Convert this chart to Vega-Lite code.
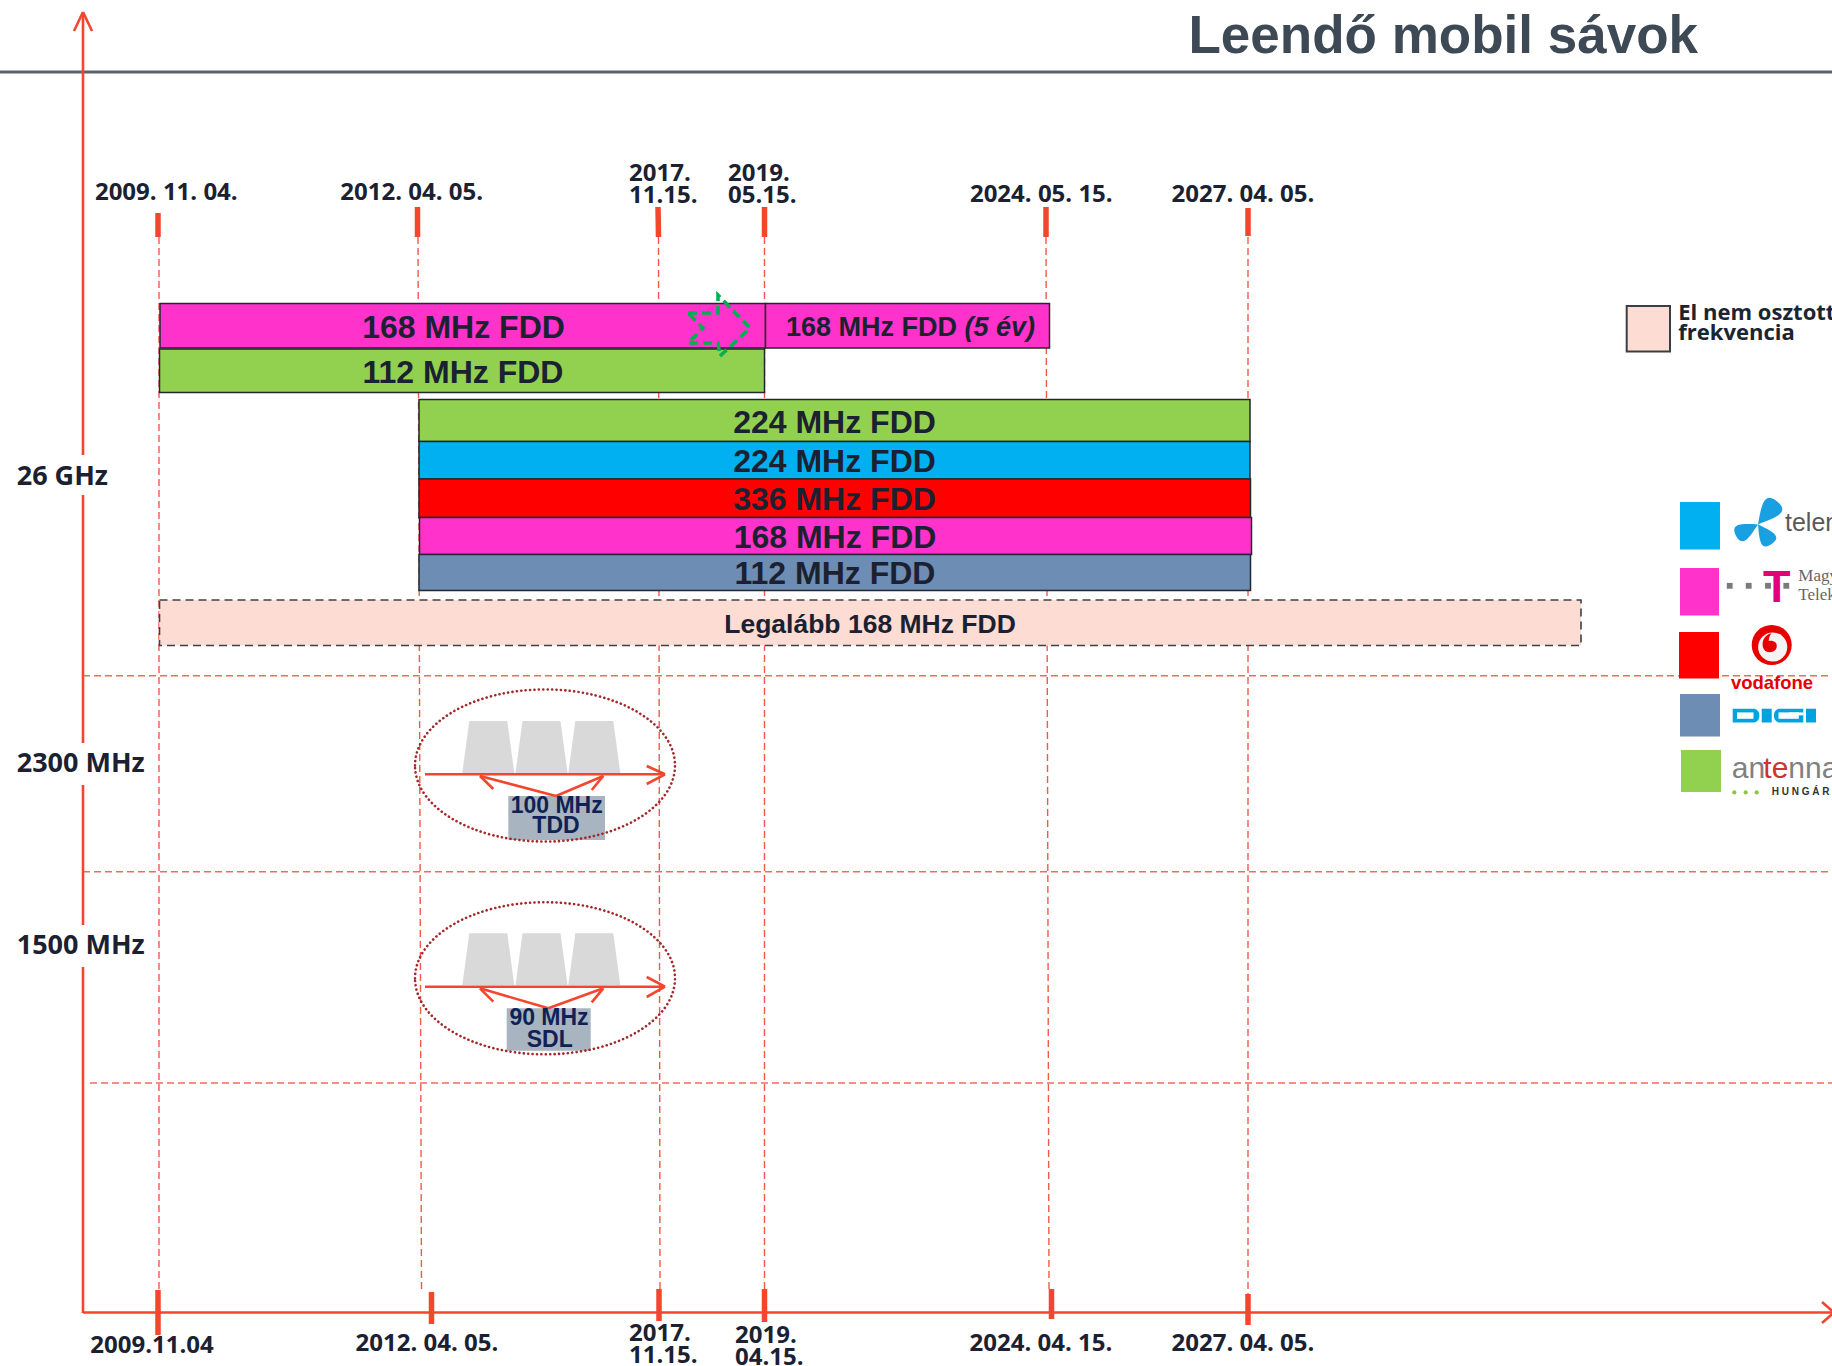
{
"$schema": "https://vega.github.io/schema/vega-lite/v6.json",
"width": 1832, "height": 1366, "padding": 0, "autosize": {"type": "none"},
"background": "#ffffff",
"config": {"view": {"stroke": null}},
"datasets": {
 "sep": [{"x": 0, "y": 72, "x2": 1832, "y2": 72}],
 "hgrid": [{"x": 83, "y": 675.7, "x2": 1832, "y2": 675.7}, {"x": 83, "y": 871.7, "x2": 1832, "y2": 871.7}, {"x": 90, "y": 1083, "x2": 1832, "y2": 1083}],
 "vgrid": [{"x": 159, "y": 237, "x2": 159, "y2": 1290}, {"x": 418, "y": 237, "x2": 421.5, "y2": 1290}, {"x": 658.5, "y": 237, "x2": 660, "y2": 1290}, {"x": 764.5, "y": 237, "x2": 764.5, "y2": 1290}, {"x": 1046, "y": 237, "x2": 1049, "y2": 1290}, {"x": 1248, "y": 237, "x2": 1248, "y2": 1295}],
 "axis": [{"x": 83, "y": 13, "x2": 83, "y2": 455}, {"x": 83, "y": 495, "x2": 83, "y2": 743}, {"x": 83, "y": 785, "x2": 83, "y2": 925}, {"x": 83, "y": 967, "x2": 83, "y2": 1313}, {"x": 83, "y": 1312.5, "x2": 1832, "y2": 1312.5}, {"x": 74, "y": 31, "x2": 83, "y2": 12}, {"x": 92, "y": 31, "x2": 83, "y2": 12}, {"x": 1822, "y": 1302, "x2": 1834, "y2": 1312.5}, {"x": 1822, "y": 1323, "x2": 1834, "y2": 1312.5}],
 "ticks": [{"x": 158, "y": 213, "x2": 158, "y2": 237}, {"x": 417.5, "y": 207, "x2": 417.5, "y2": 237}, {"x": 658, "y": 207, "x2": 658.5, "y2": 237}, {"x": 764.5, "y": 207, "x2": 764.5, "y2": 237}, {"x": 1046, "y": 207, "x2": 1046, "y2": 237}, {"x": 1248, "y": 208, "x2": 1248, "y2": 236}, {"x": 158, "y": 1290, "x2": 158, "y2": 1335}, {"x": 431.5, "y": 1292, "x2": 431.5, "y2": 1324}, {"x": 659, "y": 1289, "x2": 659, "y2": 1321}, {"x": 764.5, "y": 1289, "x2": 764.5, "y2": 1322}, {"x": 1051.5, "y": 1289, "x2": 1051.5, "y2": 1319}, {"x": 1248, "y": 1294, "x2": 1248, "y2": 1325}],
 "arrows": [{"x": 425, "y": 774.3, "x2": 665, "y2": 774.3}, {"x": 646.7, "y": 766, "x2": 665, "y2": 774.3}, {"x": 646.7, "y": 784, "x2": 665, "y2": 774.3}, {"x": 480, "y": 776, "x2": 556, "y2": 796}, {"x": 556, "y": 796, "x2": 603.3, "y2": 776}, {"x": 480, "y": 776, "x2": 493.3, "y2": 789}, {"x": 603.3, "y": 776, "x2": 591.7, "y2": 790},
   {"x": 425, "y": 986.7, "x2": 665, "y2": 986.7}, {"x": 646.7, "y": 977, "x2": 665, "y2": 986.7}, {"x": 646.7, "y": 997, "x2": 665, "y2": 986.7}, {"x": 480, "y": 988.3, "x2": 548.3, "y2": 1008.3}, {"x": 548.3, "y": 1008.3, "x2": 603.3, "y2": 988.3}, {"x": 480, "y": 988.3, "x2": 493.3, "y2": 1001.7}, {"x": 603.3, "y": 988.3, "x2": 591.7, "y2": 1002.3}],
 "bars": [{"op": "Telekom", "x": 160, "x2": 765.5, "y": 303.5, "y2": 348}, {"op": "Telekom", "x": 765.5, "x2": 1049.5, "y": 303.5, "y2": 348}, {"op": "Antenna", "x": 159.5, "x2": 764.5, "y": 349, "y2": 392.5}, {"op": "Antenna", "x": 419, "x2": 1250, "y": 399.5, "y2": 441.5}, {"op": "Telenor", "x": 419, "x2": 1250, "y": 441.5, "y2": 479}, {"op": "Vodafone", "x": 419, "x2": 1250.5, "y": 479, "y2": 517.5}, {"op": "Telekom", "x": 419.5, "x2": 1251.5, "y": 517.5, "y2": 554.5}, {"op": "DIGI", "x": 419, "x2": 1250.5, "y": 554.5, "y2": 590.5}],
 "peach": [{"op": "Unassigned", "x": 159.5, "x2": 1581, "y": 600, "y2": 645.5}],
 "legendPeach": [{"op": "Unassigned", "x": 1626.7, "x2": 1670, "y": 306, "y2": 351.5}],
 "legendSquares": [{"op": "Telenor", "x": 1680, "x2": 1720, "y": 502, "y2": 549.5}, {"op": "Telekom", "x": 1680, "x2": 1719, "y": 568, "y2": 615.5}, {"op": "Vodafone", "x": 1679, "x2": 1719, "y": 632, "y2": 678.5}, {"op": "DIGI", "x": 1680, "x2": 1720, "y": 694, "y2": 736.5}, {"op": "Antenna", "x": 1681, "x2": 1721, "y": 750, "y2": 792}],
 "barLabels": [{"t": "168 MHz FDD", "x": 463.5, "y": 338}, {"t": "112 MHz FDD", "x": 463, "y": 383}, {"t": "224 MHz FDD", "x": 834.5, "y": 432.5}, {"t": "224 MHz FDD", "x": 834.5, "y": 471.5}, {"t": "336 MHz FDD", "x": 834.5, "y": 510}, {"t": "168 MHz FDD", "x": 835, "y": 547.5}, {"t": "112 MHz FDD", "x": 835, "y": 584}],
 "fiveA": [{"t": "168 MHz FDD", "x": 786, "y": 335.5}],
 "fiveB": [{"t": "(5 év)", "x": 964.5, "y": 335.5}],
 "legalabb": [{"t": "Legalább 168 MHz FDD", "x": 870, "y": 632.5}],
 "dates": [{"t": "2009. 11. 04.", "x": 166.3, "y": 200}, {"t": "2012. 04. 05.", "x": 411.7, "y": 200}, {"t": "2024. 05. 15.", "x": 1041.3, "y": 201.7}, {"t": "2027. 04. 05.", "x": 1243, "y": 201.7},
   {"t": "2009.11.04", "x": 152, "y": 1352.7}, {"t": "2012. 04. 05.", "x": 427, "y": 1351}, {"t": "2024. 04. 15.", "x": 1041, "y": 1351}, {"t": "2027. 04. 05.", "x": 1243, "y": 1351}],
 "dates2": [{"t": "2017.\n11.15.", "x": 629, "y": 180.7}, {"t": "2019.\n05.15.", "x": 728, "y": 180.7}, {"t": "2017.\n11.15.", "x": 629, "y": 1340.5}, {"t": "2019.\n04.15.", "x": 735, "y": 1342.5}],
 "bands": [{"t": "26 GHz", "x": 16.7, "y": 485}, {"t": "2300 MHz", "x": 16.7, "y": 771.7}, {"t": "1500 MHz", "x": 16.7, "y": 954}],
 "title": [{"t": "Leendő mobil sávok", "x": 1698, "y": 53}],
 "ellipses": [{"x": 545, "y": 765.5}, {"x": 545, "y": 978.3}],
 "traps": [{"x": 488.3, "y": 747}, {"x": 541.5, "y": 747}, {"x": 594.3, "y": 747}, {"x": 488.3, "y": 959.2}, {"x": 541.5, "y": 959.2}, {"x": 594.3, "y": 959.2}],
 "boxes": [{"x": 508.3, "x2": 605, "y": 796, "y2": 840}, {"x": 506.7, "x2": 590.7, "y": 1008.3, "y2": 1050.7}],
 "boxLabels": [{"t": "100 MHz", "x": 556.7, "y": 812.7}, {"t": "TDD", "x": 556, "y": 833.3}, {"t": "90 MHz", "x": 549, "y": 1025}, {"t": "SDL", "x": 549.7, "y": 1046.7}],
 "greenArrow": [{"i": 0, "x": 688, "y": 313}, {"i": 1, "x": 718, "y": 313}, {"i": 2, "x": 718, "y": 295}, {"i": 3, "x": 750, "y": 328}, {"i": 4, "x": 720, "y": 356}, {"i": 5, "x": 718, "y": 343}, {"i": 6, "x": 688, "y": 343}, {"i": 7, "x": 703, "y": 328}, {"i": 8, "x": 688, "y": 313}],
 "legendText": [{"t": "El nem osztott", "x": 1678.3, "y": 319.6}, {"t": "frekvencia", "x": 1678.3, "y": 340.3}],
 "telenorMark": [{"x": 1758, "y": 522}],
 "telenorText": [{"t": "telenor", "x": 1785, "y": 531.4}],
 "grayDots": [{"x": 1729.7, "y": 585.8}, {"x": 1748.7, "y": 585.8}, {"x": 1768, "y": 585.8}, {"x": 1786.3, "y": 585.8}],
 "tT": [{"t": "T", "x": 1776.7, "y": 602}],
 "magyar": [{"t": "Magyar", "x": 1798.3, "y": 581.3}, {"t": "Telekom", "x": 1798.3, "y": 600.3}],
 "vodaRed": [{"x": 1771.7, "y": 645}],
 "vodaWhite": [{"x": 1772.7, "y": 647}],
 "vodaQuote": [{"x": 1769.7, "y": 643}],
 "vodaText": [{"t": "vodafone", "x": 1772, "y": 689}],
 "digiBlocks": [{"x": 1761.7, "x2": 1771.7, "y": 708.7, "y2": 722.5}, {"x": 1806, "x2": 1816, "y": 708.7, "y2": 722.5}],
 "digiD": [{"x": 1732.7, "x2": 1759.3, "y": 708.7, "y2": 722.5}],
 "digiG": [{"x": 1774, "x2": 1803.3, "y": 708.7, "y2": 722.5}],
 "digiSlots": [{"x": 1737, "x2": 1753.5, "y": 712.4, "y2": 718.8}, {"x": 1778.5, "x2": 1798.8, "y": 712.4, "y2": 718.8}, {"x": 1789, "x2": 1803.5, "y": 712.4, "y2": 715.3}],
 "antGray": [{"t": "an", "x": 1731.7, "y": 777.6}, {"t": "nna", "x": 1788.3, "y": 777.6}],
 "antRed": [{"t": "te", "x": 1763.3, "y": 777.6}],
 "greenDots": [{"x": 1734.3, "y": 792.4}, {"x": 1745.7, "y": 792.4}, {"x": 1756.7, "y": 792.4}],
 "hungaria": [{"t": "H U N G Á R I A", "x": 1771.7, "y": 795}]
},
"encoding": {
 "x": {"field": "x", "type": "quantitative", "scale": {"domain": [0, 1832], "nice": false, "zero": false}, "axis": null},
 "y": {"field": "y", "type": "quantitative", "scale": {"domain": [0, 1366], "nice": false, "zero": false, "reverse": true}, "axis": null}
},
"layer": [
 {"data": {"name": "sep"}, "mark": {"type": "rule", "color": "#5b6169", "strokeWidth": 3}, "encoding": {"x2": {"field": "x2"}, "y2": {"field": "y2"}}},
 {"data": {"name": "hgrid"}, "mark": {"type": "rule", "color": "#f46a5a", "strokeWidth": 1.6, "strokeDash": [7, 4]}, "encoding": {"x2": {"field": "x2"}, "y2": {"field": "y2"}}},
 {"data": {"name": "vgrid"}, "mark": {"type": "rule", "color": "#f25a48", "strokeWidth": 1.4, "strokeDash": [7, 4]}, "encoding": {"x2": {"field": "x2"}, "y2": {"field": "y2"}}},
 {"data": {"name": "bars"}, "mark": {"type": "rect", "stroke": "#222831", "strokeWidth": 1.5}, "encoding": {"x2": {"field": "x2"}, "y2": {"field": "y2"}, "color": {"field": "op", "type": "nominal", "scale": {"domain": ["Telenor", "Telekom", "Vodafone", "DIGI", "Antenna", "Unassigned"], "range": ["#00b0f0", "#ff33cc", "#ff0000", "#6e8db4", "#92d050", "#fddcd3"]}, "legend": null}}},
 {"data": {"name": "peach"}, "mark": {"type": "rect", "stroke": "#3d4248", "strokeWidth": 1.6, "strokeDash": [8, 5]}, "encoding": {"x2": {"field": "x2"}, "y2": {"field": "y2"}, "color": {"field": "op", "type": "nominal", "legend": null}}},
 {"data": {"name": "barLabels"}, "mark": {"type": "text", "font": "Liberation Sans", "fontWeight": "bold", "fontSize": 32, "color": "#1b2130", "align": "center", "baseline": "alphabetic"}, "encoding": {"text": {"field": "t"}}},
 {"data": {"name": "fiveA"}, "mark": {"type": "text", "font": "Liberation Sans", "fontWeight": "bold", "fontSize": 27, "color": "#1b2130", "align": "left", "baseline": "alphabetic"}, "encoding": {"text": {"field": "t"}}},
 {"data": {"name": "fiveB"}, "mark": {"type": "text", "font": "Liberation Sans", "fontWeight": "bold", "fontStyle": "italic", "fontSize": 27, "color": "#1b2130", "align": "left", "baseline": "alphabetic"}, "encoding": {"text": {"field": "t"}}},
 {"data": {"name": "legalabb"}, "mark": {"type": "text", "font": "Liberation Sans", "fontWeight": "bold", "fontSize": 26.5, "color": "#1b2130", "align": "center", "baseline": "alphabetic"}, "encoding": {"text": {"field": "t"}}},
 {"data": {"name": "greenArrow"}, "mark": {"type": "line", "color": "#00b050", "strokeWidth": 3.5, "strokeDash": [9, 5]}, "encoding": {"order": {"field": "i"}}},
 {"data": {"name": "traps"}, "mark": {"type": "point", "shape": "M -0.73 -1 L 0.73 -1 L 1 1 L -1 1 Z", "size": 2704, "filled": true, "color": "#d9d9d9", "opacity": 1, "strokeWidth": 0}},
 {"data": {"name": "boxes"}, "mark": {"type": "rect", "color": "#a8b4c0"}, "encoding": {"x2": {"field": "x2"}, "y2": {"field": "y2"}}},
 {"data": {"name": "arrows"}, "mark": {"type": "rule", "color": "#f4462f", "strokeWidth": 2.6}, "encoding": {"x2": {"field": "x2"}, "y2": {"field": "y2"}}},
 {"data": {"name": "boxLabels"}, "mark": {"type": "text", "font": "Liberation Sans", "fontWeight": "bold", "fontSize": 23, "color": "#0f2257", "align": "center", "baseline": "alphabetic"}, "encoding": {"text": {"field": "t"}}},
 {"data": {"name": "ellipses"}, "mark": {"type": "point", "shape": "M -1 0 C -1 -0.3231 -0.5523 -0.585 0 -0.585 C 0.5523 -0.585 1 -0.3231 1 0 C 1 0.3231 0.5523 0.585 0 0.585 C -0.5523 0.585 -1 0.3231 -1 0 Z", "size": 67600, "filled": false, "color": "#a3282a", "opacity": 1, "strokeWidth": 2.6, "strokeDash": [0.1, 4.3], "strokeCap": "round"}},
 {"data": {"name": "axis"}, "mark": {"type": "rule", "color": "#f4462f", "strokeWidth": 2.6}, "encoding": {"x2": {"field": "x2"}, "y2": {"field": "y2"}}},
 {"data": {"name": "ticks"}, "mark": {"type": "rule", "color": "#f4462f", "strokeWidth": 5.5}, "encoding": {"x2": {"field": "x2"}, "y2": {"field": "y2"}}},
 {"data": {"name": "dates"}, "mark": {"type": "text", "font": "Open Sans", "fontWeight": "bold", "fontSize": 24, "color": "#1b2130", "align": "center", "baseline": "alphabetic"}, "encoding": {"text": {"field": "t"}}},
 {"data": {"name": "dates2"}, "mark": {"type": "text", "font": "Open Sans", "fontWeight": "bold", "fontSize": 24, "color": "#1b2130", "align": "left", "baseline": "alphabetic", "lineBreak": "\n", "lineHeight": 22}, "encoding": {"text": {"field": "t"}}},
 {"data": {"name": "bands"}, "mark": {"type": "text", "font": "Open Sans", "fontWeight": "bold", "fontSize": 27, "color": "#1b2130", "align": "left", "baseline": "alphabetic"}, "encoding": {"text": {"field": "t"}}},
 {"data": {"name": "title"}, "mark": {"type": "text", "font": "Liberation Sans", "fontWeight": "bold", "fontSize": 53, "color": "#3d4954", "align": "right", "baseline": "alphabetic"}, "encoding": {"text": {"field": "t"}}},
 {"data": {"name": "legendPeach"}, "mark": {"type": "rect", "stroke": "#3a3f45", "strokeWidth": 2}, "encoding": {"x2": {"field": "x2"}, "y2": {"field": "y2"}, "color": {"field": "op", "type": "nominal", "legend": null}}},
 {"data": {"name": "legendText"}, "mark": {"type": "text", "font": "Open Sans", "fontWeight": "bold", "fontSize": 22, "color": "#1b2530", "align": "left", "baseline": "alphabetic"}, "encoding": {"text": {"field": "t"}}},
 {"data": {"name": "legendSquares"}, "mark": {"type": "rect"}, "encoding": {"x2": {"field": "x2"}, "y2": {"field": "y2"}, "color": {"field": "op", "type": "nominal", "legend": null}}},
 {"data": {"name": "telenorMark"}, "mark": {"type": "point", "shape": "M 0 0.1 C 0.669 -0.156 1.376 -0.38 0.8 -0.86 C 0.224 -1.34 0.131 -0.604 0 0.1 Z M 0 0.1 C -0.592 0.078 -1.202 0.018 -0.92 0.57 C -0.638 1.122 -0.329 0.592 0 0.1 Z M 0 0.1 C 0.055 0.67 0.078 1.262 0.57 0.92 C 1.062 0.578 0.515 0.35 0 0.1 Z", "size": 2300, "filled": true, "color": "#1a9fe0", "opacity": 1, "strokeWidth": 0}},
 {"data": {"name": "telenorText"}, "mark": {"type": "text", "font": "Liberation Sans", "fontSize": 25, "color": "#595959", "align": "left", "baseline": "alphabetic"}, "encoding": {"text": {"field": "t"}}},
 {"data": {"name": "grayDots"}, "mark": {"type": "point", "shape": "square", "size": 34, "filled": true, "color": "#7a7a7a", "opacity": 1}},
 {"data": {"name": "tT"}, "mark": {"type": "text", "font": "Liberation Sans", "fontWeight": "bold", "fontSize": 45, "color": "#e20074", "align": "center", "baseline": "alphabetic"}, "encoding": {"text": {"field": "t"}}},
 {"data": {"name": "magyar"}, "mark": {"type": "text", "font": "Liberation Serif", "fontSize": 17, "color": "#666666", "align": "left", "baseline": "alphabetic"}, "encoding": {"text": {"field": "t"}}},
 {"data": {"name": "vodaRed"}, "mark": {"type": "point", "shape": "circle", "size": 1600, "filled": true, "color": "#e60000", "opacity": 1}},
 {"data": {"name": "vodaWhite"}, "mark": {"type": "point", "shape": "circle", "size": 850, "filled": true, "color": "#f4f4f4", "opacity": 1}},
 {"data": {"name": "vodaQuote"}, "mark": {"type": "point", "shape": "M 0.2 -1 C -0.6 -0.8 -0.9 0 -0.6 0.6 C -0.3 1.1 0.6 1 0.7 0.4 C 0.8 -0.1 0.3 -0.3 -0.1 -0.2 C -0.1 -0.6 0.1 -0.9 0.2 -1 Z", "size": 400, "filled": true, "color": "#e60000", "opacity": 1}},
 {"data": {"name": "vodaText"}, "mark": {"type": "text", "font": "Liberation Sans", "fontWeight": "bold", "fontSize": 18.5, "color": "#e60000", "align": "center", "baseline": "alphabetic"}, "encoding": {"text": {"field": "t"}}},
 {"data": {"name": "digiBlocks"}, "mark": {"type": "rect", "color": "#00a3e0"}, "encoding": {"x2": {"field": "x2"}, "y2": {"field": "y2"}}},
 {"data": {"name": "digiD"}, "mark": {"type": "rect", "color": "#00a3e0", "cornerRadiusTopRight": 6, "cornerRadiusBottomRight": 6}, "encoding": {"x2": {"field": "x2"}, "y2": {"field": "y2"}}},
 {"data": {"name": "digiG"}, "mark": {"type": "rect", "color": "#00a3e0", "cornerRadiusTopLeft": 6, "cornerRadiusBottomLeft": 6}, "encoding": {"x2": {"field": "x2"}, "y2": {"field": "y2"}}},
 {"data": {"name": "digiSlots"}, "mark": {"type": "rect", "color": "#ffffff"}, "encoding": {"x2": {"field": "x2"}, "y2": {"field": "y2"}}},
 {"data": {"name": "antGray"}, "mark": {"type": "text", "font": "Liberation Sans", "fontSize": 30, "color": "#808080", "align": "left", "baseline": "alphabetic"}, "encoding": {"text": {"field": "t"}}},
 {"data": {"name": "antRed"}, "mark": {"type": "text", "font": "Liberation Sans", "fontSize": 30, "color": "#cc3333", "align": "left", "baseline": "alphabetic"}, "encoding": {"text": {"field": "t"}}},
 {"data": {"name": "greenDots"}, "mark": {"type": "point", "shape": "circle", "size": 18, "filled": true, "color": "#8dc63f", "opacity": 1}},
 {"data": {"name": "hungaria"}, "mark": {"type": "text", "font": "Liberation Sans", "fontWeight": "bold", "fontSize": 10, "color": "#333333", "align": "left", "baseline": "alphabetic"}, "encoding": {"text": {"field": "t"}}}
]
}
